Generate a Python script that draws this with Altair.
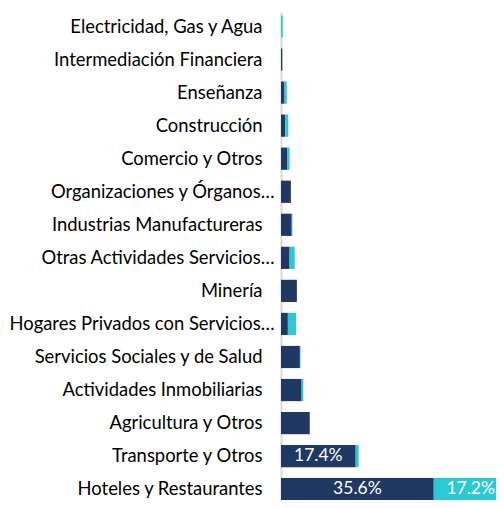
import altair as alt
import pandas as pd

categories = ["Electricidad, Gas y Agua", "Intermediación Financiera", "Enseñanza",
              "Construcción", "Comercio y Otros", "Organizaciones y Órganos…",
              "Industrias Manufactureras", "Otras Actividades Servicios…", "Minería",
              "Hogares Privados con Servicios…", "Servicios Sociales y de Salud",
              "Actividades Inmobiliarias", "Agricultura y Otros", "Transporte y Otros",
              "Hoteles y Restaurantes"]
navy_values = [0.0, 0.3, 0.8, 1.0, 1.5, 2.3, 2.5, 2.0, 3.7, 1.6, 4.4, 4.8, 6.7, 17.4, 35.6]
cyan_values = [0.4, 0.0, 0.55, 0.7, 0.5, 0.0, 0.15, 1.2, 0.0, 1.9, 0.15, 0.4, 0.0, 0.7, 17.2]
series_names = ["A", "B"]
series_colors = ["#1F3864", "#2BC9D4"]

rows = []
for c, a, b in zip(categories, navy_values, cyan_values):
    rows.append({"cat": c, "series": "A", "ord": 0, "value": a})
    rows.append({"cat": c, "series": "B", "ord": 1, "value": b})
df = pd.DataFrame(rows)

FONT = "Lato"

y = alt.Y("cat:N", sort=categories, title=None,
          scale=alt.Scale(range=[0, 491.7], paddingInner=0.328, paddingOuter=0.103),
          axis=alt.Axis(labelFont=FONT, labelFontSize=18.4, labelColor="#000000",
                        labelPadding={"condition": {"test": "indexof(datum.value, '…') >= 0", "value": 7},
                                      "value": 19},
                        ticks=False, labelLimit=400,
                        domainColor="#D9D9D9", domainWidth=2, grid=False))

base = alt.Chart(df).transform_stack(
    stack="value", groupby=["cat"], sort=[alt.SortField("ord")], as_=["x0", "x1"]
).transform_calculate(mid="(datum.x0 + datum.x1) / 2",
                      lbl="format(datum.value, '.1f') + '%'")

xscale = alt.Scale(domain=[0, 50.1], nice=False, zero=True)

bars = base.mark_bar(clip=True).encode(
    y=y,
    x=alt.X("x0:Q", scale=xscale, axis=None),
    x2="x1:Q",
    color=alt.Color("series:N", scale=alt.Scale(domain=series_names, range=series_colors), legend=None),
)

labels = base.transform_filter("datum.value > 10").mark_text(
    color="white", font=FONT, fontSize=17.5, baseline="middle", align="center", clip=True
).encode(
    y=y,
    x=alt.X("mid:Q", scale=xscale, axis=None),
    text="lbl:N",
)

chart = alt.layer(bars, labels).properties(
    width=215, height=488,
    autosize=alt.AutoSizeParams(type="none"),
    padding={"left": 273, "top": 4, "right": 0, "bottom": 0},
).configure_view(stroke=None)

chart.save("out.html", embed_options={"renderer": "svg", "actions": False})
